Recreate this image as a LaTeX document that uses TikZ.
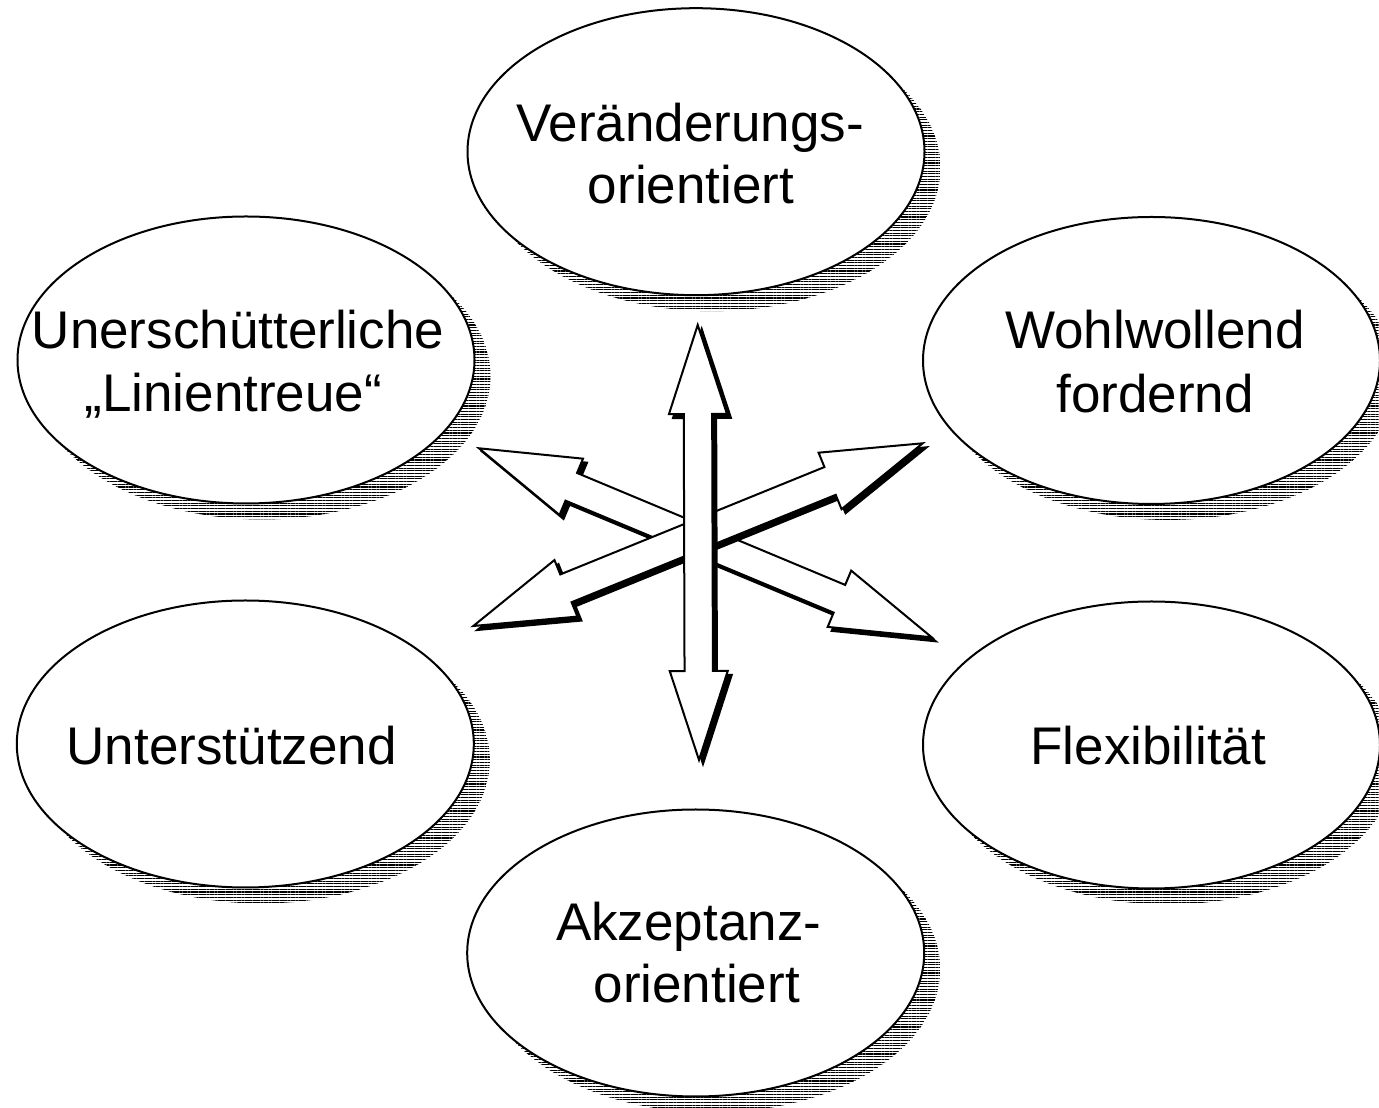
\documentclass[tikz,border=0pt]{standalone}
\usepackage{fontspec}
\setmainfont{Liberation Sans}
\usetikzlibrary{calc,shadows,patterns.meta,shapes.geometric}
\newcommand\arrowpoly[6]{%
  \coordinate (ba1) at ($(#1)!#3!(#2)$);
  \coordinate (ba2) at ($(#2)!#3!(#1)$);
  \draw[#6] (#1) -- ($(ba1)!#5!90:(#2)$) -- ($(ba1)!#4!90:(#2)$)
     -- ($(ba2)!#4!-90:(#1)$) -- ($(ba2)!#5!-90:(#1)$) -- (#2)
     -- ($(ba2)!#5!90:(#1)$) -- ($(ba2)!#4!90:(#1)$)
     -- ($(ba1)!#4!-90:(#2)$) -- ($(ba1)!#5!-90:(#2)$) -- cycle;
}
\newcommand\shadowarrow[5]{%
  \coordinate (sa) at ($(#1)+(4,-4)$);
  \coordinate (sb) at ($(#2)+(4,-4)$);
  \arrowpoly{sa}{sb}{#3}{#4}{#5}{arrshadow}
  \arrowpoly{#1}{#2}{#3}{#4}{#5}{arrbody}
}
\tikzset{
  oval/.style={ellipse, draw=black, line width=2pt, fill=white,
    minimum width=457pt, minimum height=287pt, inner sep=0pt,
    drop shadow={shadow xshift=16pt, shadow yshift=-16pt, opacity=1,
      pattern={Lines[angle=0,distance=2.7pt,line width=1.1pt]}}},
  lbl/.style={anchor=base, inner sep=0pt, font=\fontsize{53}{63}\selectfont},
  arrbody/.style={draw=black, fill=white, line width=2pt, line join=miter},
  arrshadow/.style={draw=black, fill=black, line width=2pt, line join=miter},
}
\begin{document}
\begin{tikzpicture}[x=1pt,y=1pt]
\useasboundingbox (0,0) rectangle (1379,1108);
\fill[white] (0,0) rectangle (1379,1108);

% ellipses
\node[oval] (top) at (696,956.3) {};
\node[oval] (ul) at (246,748) {};
\node[oval] (ur) at (1151.5,747.5) {};
\node[oval] (ll) at (245.3,364) {};
\node[oval] (lr) at (1151.5,363) {};
\node[oval] (bot) at (695.7,155) {};

% texts
\node[lbl] (topa) at (690,966.3) {Veränderungs-};
\node[lbl] (topb) at (691,904.7) {orientiert};
\node[lbl] (ula) at (238,759.7) {Unerschütterliche};
\node[lbl] (ulb) at (233.3,696.3) {„Linientreue“};
\node[lbl] (ura) at (1155,759.7) {Wohlwollend};
\node[lbl] (urb) at (1155,695.3) {fordernd};
\node[lbl] (lla) at (231.7,343) {Unterstützend};
\node[lbl] (lra) at (1148.3,343) {Flexibilität};
\node[lbl] (bota) at (688.7,167.3) {Akzeptanz-};
\node[lbl] (botb) at (696.7,105) {orientiert};

% arrow tips
\coordinate (nwA) at (479,659.7);
\coordinate (nwB) at (931.7,470.7);
\coordinate (swA) at (473.3,482);
\coordinate (swB) at (922.7,664.7);
\coordinate (vA) at (697.7,783);
\coordinate (vB) at (699,348);

\shadowarrow{nwA}{nwB}{100pt}{15pt}{30.5pt}
\shadowarrow{swA}{swB}{100pt}{15pt}{30.5pt}
\shadowarrow{vA}{vB}{89pt}{14.2pt}{29pt}
\end{tikzpicture}
\end{document}
